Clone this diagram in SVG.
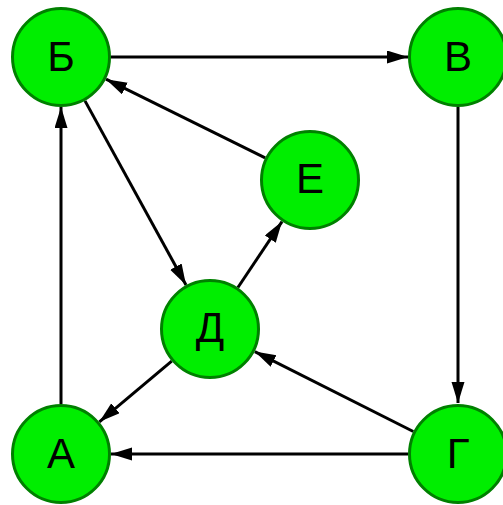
<svg xmlns="http://www.w3.org/2000/svg" width="503" height="505" viewBox="0 0 503 505">
<defs>
<style>
.n{fill:#00ee00;stroke:#008000;stroke-width:3}
.t{font-family:"Liberation Sans",Arial,sans-serif;font-size:42px;text-anchor:middle;fill:#000}
.e{stroke:#000;stroke-width:3;fill:none;marker-end:url(#a)}
</style>
<marker id="a" markerUnits="userSpaceOnUse" markerWidth="22" markerHeight="14" refX="21" refY="6.5" orient="auto">
<path d="M0,0 L21,6.5 L0,13 z" fill="#000"/>
</marker>
</defs>
<rect width="503" height="505" fill="#fff"/>
<g id="edges">
<line class="e" x1="111" y1="57" x2="408" y2="57"/>
<line class="e" x1="458" y1="107" x2="458" y2="403"/>
<line class="e" x1="408" y1="454" x2="111" y2="454"/>
<line class="e" x1="61" y1="404" x2="61" y2="107"/>
<line class="e" x1="265.2" y1="157.9" x2="106" y2="79.2"/>
<line class="e" x1="85" y1="100.9" x2="186" y2="285"/>
<line class="e" x1="237.9" y1="287.5" x2="282" y2="221.6"/>
<line class="e" x1="413.3" y1="431.5" x2="254.8" y2="351.6"/>
<line class="e" x1="171.7" y1="361.1" x2="99.4" y2="421.8"/>
</g>
<g id="node-B"><circle class="n" cx="61" cy="57" r="48.5"/><text class="t" x="61" y="71">Б</text></g>
<g id="node-V"><circle class="n" cx="458" cy="57" r="48.5"/><text class="t" x="458" y="71">В</text></g>
<g id="node-E"><circle class="n" cx="310" cy="180" r="48.5"/><text class="t" x="310" y="193">Е</text></g>
<g id="node-D"><circle class="n" cx="210" cy="329" r="48.5"/><text class="t" x="210" y="342">Д</text></g>
<g id="node-A"><circle class="n" cx="61" cy="454" r="48.5"/><text class="t" x="61" y="468">А</text></g>
<g id="node-G"><circle class="n" cx="458" cy="454" r="48.5"/><text class="t" x="458" y="468">Г</text></g>
</svg>
